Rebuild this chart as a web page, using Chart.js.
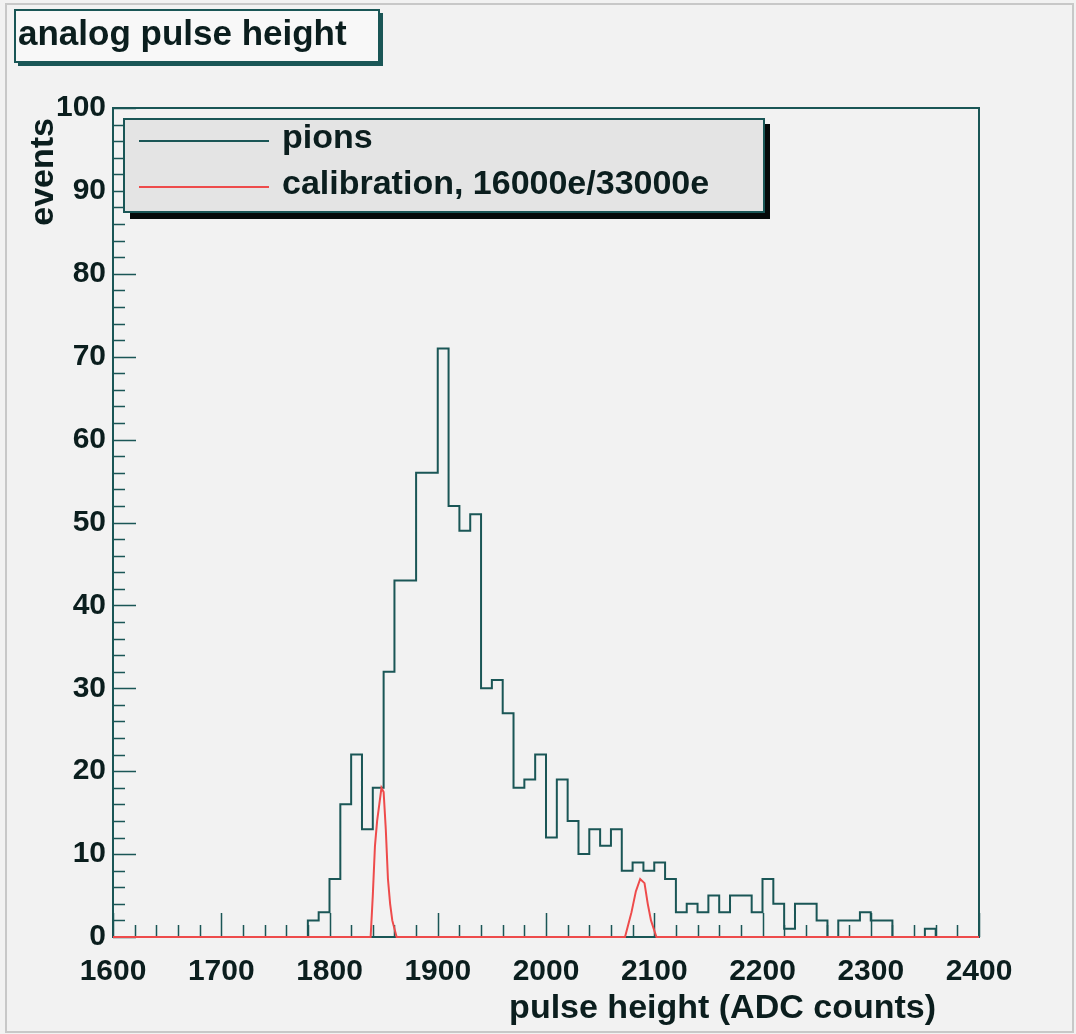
<!DOCTYPE html>
<html lang="en">
<head>
<meta charset="UTF-8">
<title>analog pulse height</title>
<script src="https://cdn.jsdelivr.net/npm/chart.js"></script>
<style>
    html, body { margin: 0; padding: 0; background: #f2f2f2; }
    canvas { display: block; }
</style>
</head>
<body>
<canvas id="pulseHeight" width="1076" height="1034"></canvas>
<script>
    // pion histogram, 10 ADC counts per bin, first bin starts at 1600
    const binStart = 1600;
    const binWidth = 10;
    const pionCounts = [
        0, 0, 0, 0, 0, 0, 0, 0, 0, 0,          // 1600
        0, 0, 0, 0, 0, 0, 0, 0, 2, 3,          // 1700
        7, 16, 22, 13, 18, 32, 43, 43, 56, 56, // 1800
        71, 52, 49, 51, 30, 31, 27, 18, 19, 22, // 1900
        12, 19, 14, 10, 13, 11, 13, 8, 9, 8,   // 2000
        9, 7, 3, 4, 3, 5, 3, 5, 5, 3,          // 2100
        7, 4, 1, 4, 4, 2, 0, 2, 2, 3,          // 2200
        2, 2, 0, 0, 0, 1, 0, 0, 0, 0           // 2300
    ];

    // calibration pulses (16000e / 33000e)
    const calibX = [1600, 1838, 1840, 1842, 1844, 1846, 1848, 1850, 1852, 1854, 1856, 1858, 1862,
                    2073, 2079, 2083, 2087, 2091, 2094, 2097, 2102, 2400];
    const calibY = [0, 0, 5, 11, 14, 16, 18, 17.5, 13, 7, 4, 2, 0,
                    0, 3, 5.5, 7, 6.5, 4, 2, 0, 0];

    const xRange = [1600, 2400];
    const yRange = [0, 100];
    const xTickStep = 100;
    const yTickStep = 10;

    const FONT = '"Liberation Sans", Arial, Helvetica, sans-serif';
    const INK = '#0b1e1e';
    const FRAME = '#1a5656';
    const RED = '#ee4b4b';

    const pionPoints = pionCounts.map((c, i) => ({x: binStart + i * binWidth, y: c}));
    pionPoints.push({x: binStart + pionCounts.length * binWidth, y: pionCounts[pionCounts.length - 1]});
    const calibPoints = calibX.map((x, i) => ({x: x, y: calibY[i]}));

    const rootStyle = {
        id: 'rootStyle',
        beforeDraw(chart) {
            const {ctx, width, height} = chart;
            ctx.save();
            ctx.fillStyle = '#f2f2f2';
            ctx.fillRect(0, 0, width, height);
            ctx.strokeStyle = '#c8c8c8';
            ctx.lineWidth = 2;
            ctx.strokeRect(6, 4, width - 9, height - 6);
            ctx.restore();
        },
        beforeDatasetsDraw(chart) {
            const {ctx, chartArea: a, scales: {x, y}} = chart;
            ctx.save();
            ctx.strokeStyle = FRAME;
            ctx.lineWidth = 2;
            ctx.strokeRect(a.left, a.top, a.right - a.left, a.bottom - a.top);
            // ticks point inwards, 5 minor divisions per major
            ctx.lineWidth = 1.5;
            ctx.beginPath();
            for (let v = yRange[0]; v <= yRange[1]; v += yTickStep / 5) {
                const py = Math.round(y.getPixelForValue(v)) + 0.5;
                const len = v % yTickStep === 0 ? 23 : 12;
                ctx.moveTo(a.left, py);
                ctx.lineTo(a.left + len, py);
            }
            for (let v = xRange[0]; v <= xRange[1]; v += xTickStep / 5) {
                const px = Math.round(x.getPixelForValue(v)) + 0.5;
                const len = v % xTickStep === 0 ? 24 : 12;
                ctx.moveTo(px, a.bottom);
                ctx.lineTo(px, a.bottom - len);
            }
            ctx.stroke();
            ctx.restore();
        },
        afterDraw(chart) {
            const {ctx} = chart;
            ctx.save();

            // title pave
            ctx.fillStyle = FRAME;
            ctx.fillRect(18, 13, 365, 53);
            ctx.fillStyle = '#f8f8f8';
            ctx.fillRect(15, 10, 364, 52);
            ctx.strokeStyle = FRAME;
            ctx.lineWidth = 2;
            ctx.strokeRect(15, 10, 364, 52);
            ctx.fillStyle = INK;
            ctx.font = 'bold 35px ' + FONT;
            ctx.textAlign = 'left';
            ctx.textBaseline = 'alphabetic';
            ctx.fillText('analog pulse height', 18, 45);

            // legend pave
            ctx.fillStyle = '#050a0a';
            ctx.fillRect(130, 124, 640, 95);
            ctx.fillStyle = '#e4e4e4';
            ctx.fillRect(124, 119, 640, 93);
            ctx.strokeStyle = FRAME;
            ctx.lineWidth = 2;
            ctx.strokeRect(124, 119, 640, 93);
            const rows = [141, 187];
            chart.data.datasets.forEach((ds, i) => {
                ctx.strokeStyle = ds.borderColor;
                ctx.lineWidth = 2;
                ctx.beginPath();
                ctx.moveTo(139, rows[i]);
                ctx.lineTo(269, rows[i]);
                ctx.stroke();
                ctx.fillStyle = INK;
                ctx.font = 'bold 34px ' + FONT;
                ctx.fillText(ds.label, 282, rows[i] + 7);
            });

            // axis titles
            ctx.font = 'bold 34px ' + FONT;
            ctx.textAlign = 'right';
            ctx.fillText('pulse height (ADC counts)', 936, 1018);
            ctx.translate(53, 118);
            ctx.rotate(-Math.PI / 2);
            ctx.fillText('events', 0, 0);
            ctx.restore();
        }
    };

    Chart.defaults.font.family = FONT;
    Chart.defaults.color = INK;

    new Chart(document.getElementById('pulseHeight'), {
        type: 'line',
        data: {
            datasets: [
                {
                    label: 'pions',
                    data: pionPoints,
                    borderColor: FRAME,
                    borderWidth: 2,
                    stepped: true,
                    pointRadius: 0,
                    fill: false,
                    clip: 4,
                    order: 1
                },
                {
                    label: 'calibration, 16000e/33000e',
                    data: calibPoints,
                    borderColor: RED,
                    borderWidth: 2,
                    pointRadius: 0,
                    fill: false,
                    clip: 4,
                    order: 0
                }
            ]
        },
        options: {
            responsive: false,
            devicePixelRatio: 1,
            animation: false,
            layout: {padding: {left: 0, top: 108, right: 97, bottom: 0}},
            plugins: {
                legend: {display: false},
                title: {display: false},
                tooltip: {enabled: false}
            },
            scales: {
                x: {
                    type: 'linear',
                    min: xRange[0],
                    max: xRange[1],
                    grid: {display: false, drawTicks: false},
                    border: {display: false},
                    ticks: {
                        stepSize: xTickStep,
                        font: {size: 30, weight: 'bold'},
                        padding: 17,
                        maxRotation: 0,
                        callback: v => String(v)
                    },
                    afterFit(scale) {
                        scale.height = 97;
                        scale.paddingLeft = 0;
                        scale.paddingRight = 0;
                    }
                },
                y: {
                    min: yRange[0],
                    max: yRange[1],
                    grid: {display: false, drawTicks: false},
                    border: {display: false},
                    ticks: {
                        stepSize: yTickStep,
                        font: {size: 30, weight: 'bold'},
                        padding: 7,
                        callback: v => String(v)
                    },
                    afterFit(scale) {
                        scale.width = 113;
                        scale.paddingTop = 0;
                        scale.paddingBottom = 0;
                    }
                }
            }
        },
        plugins: [rootStyle]
    });
</script>
</body>
</html>
